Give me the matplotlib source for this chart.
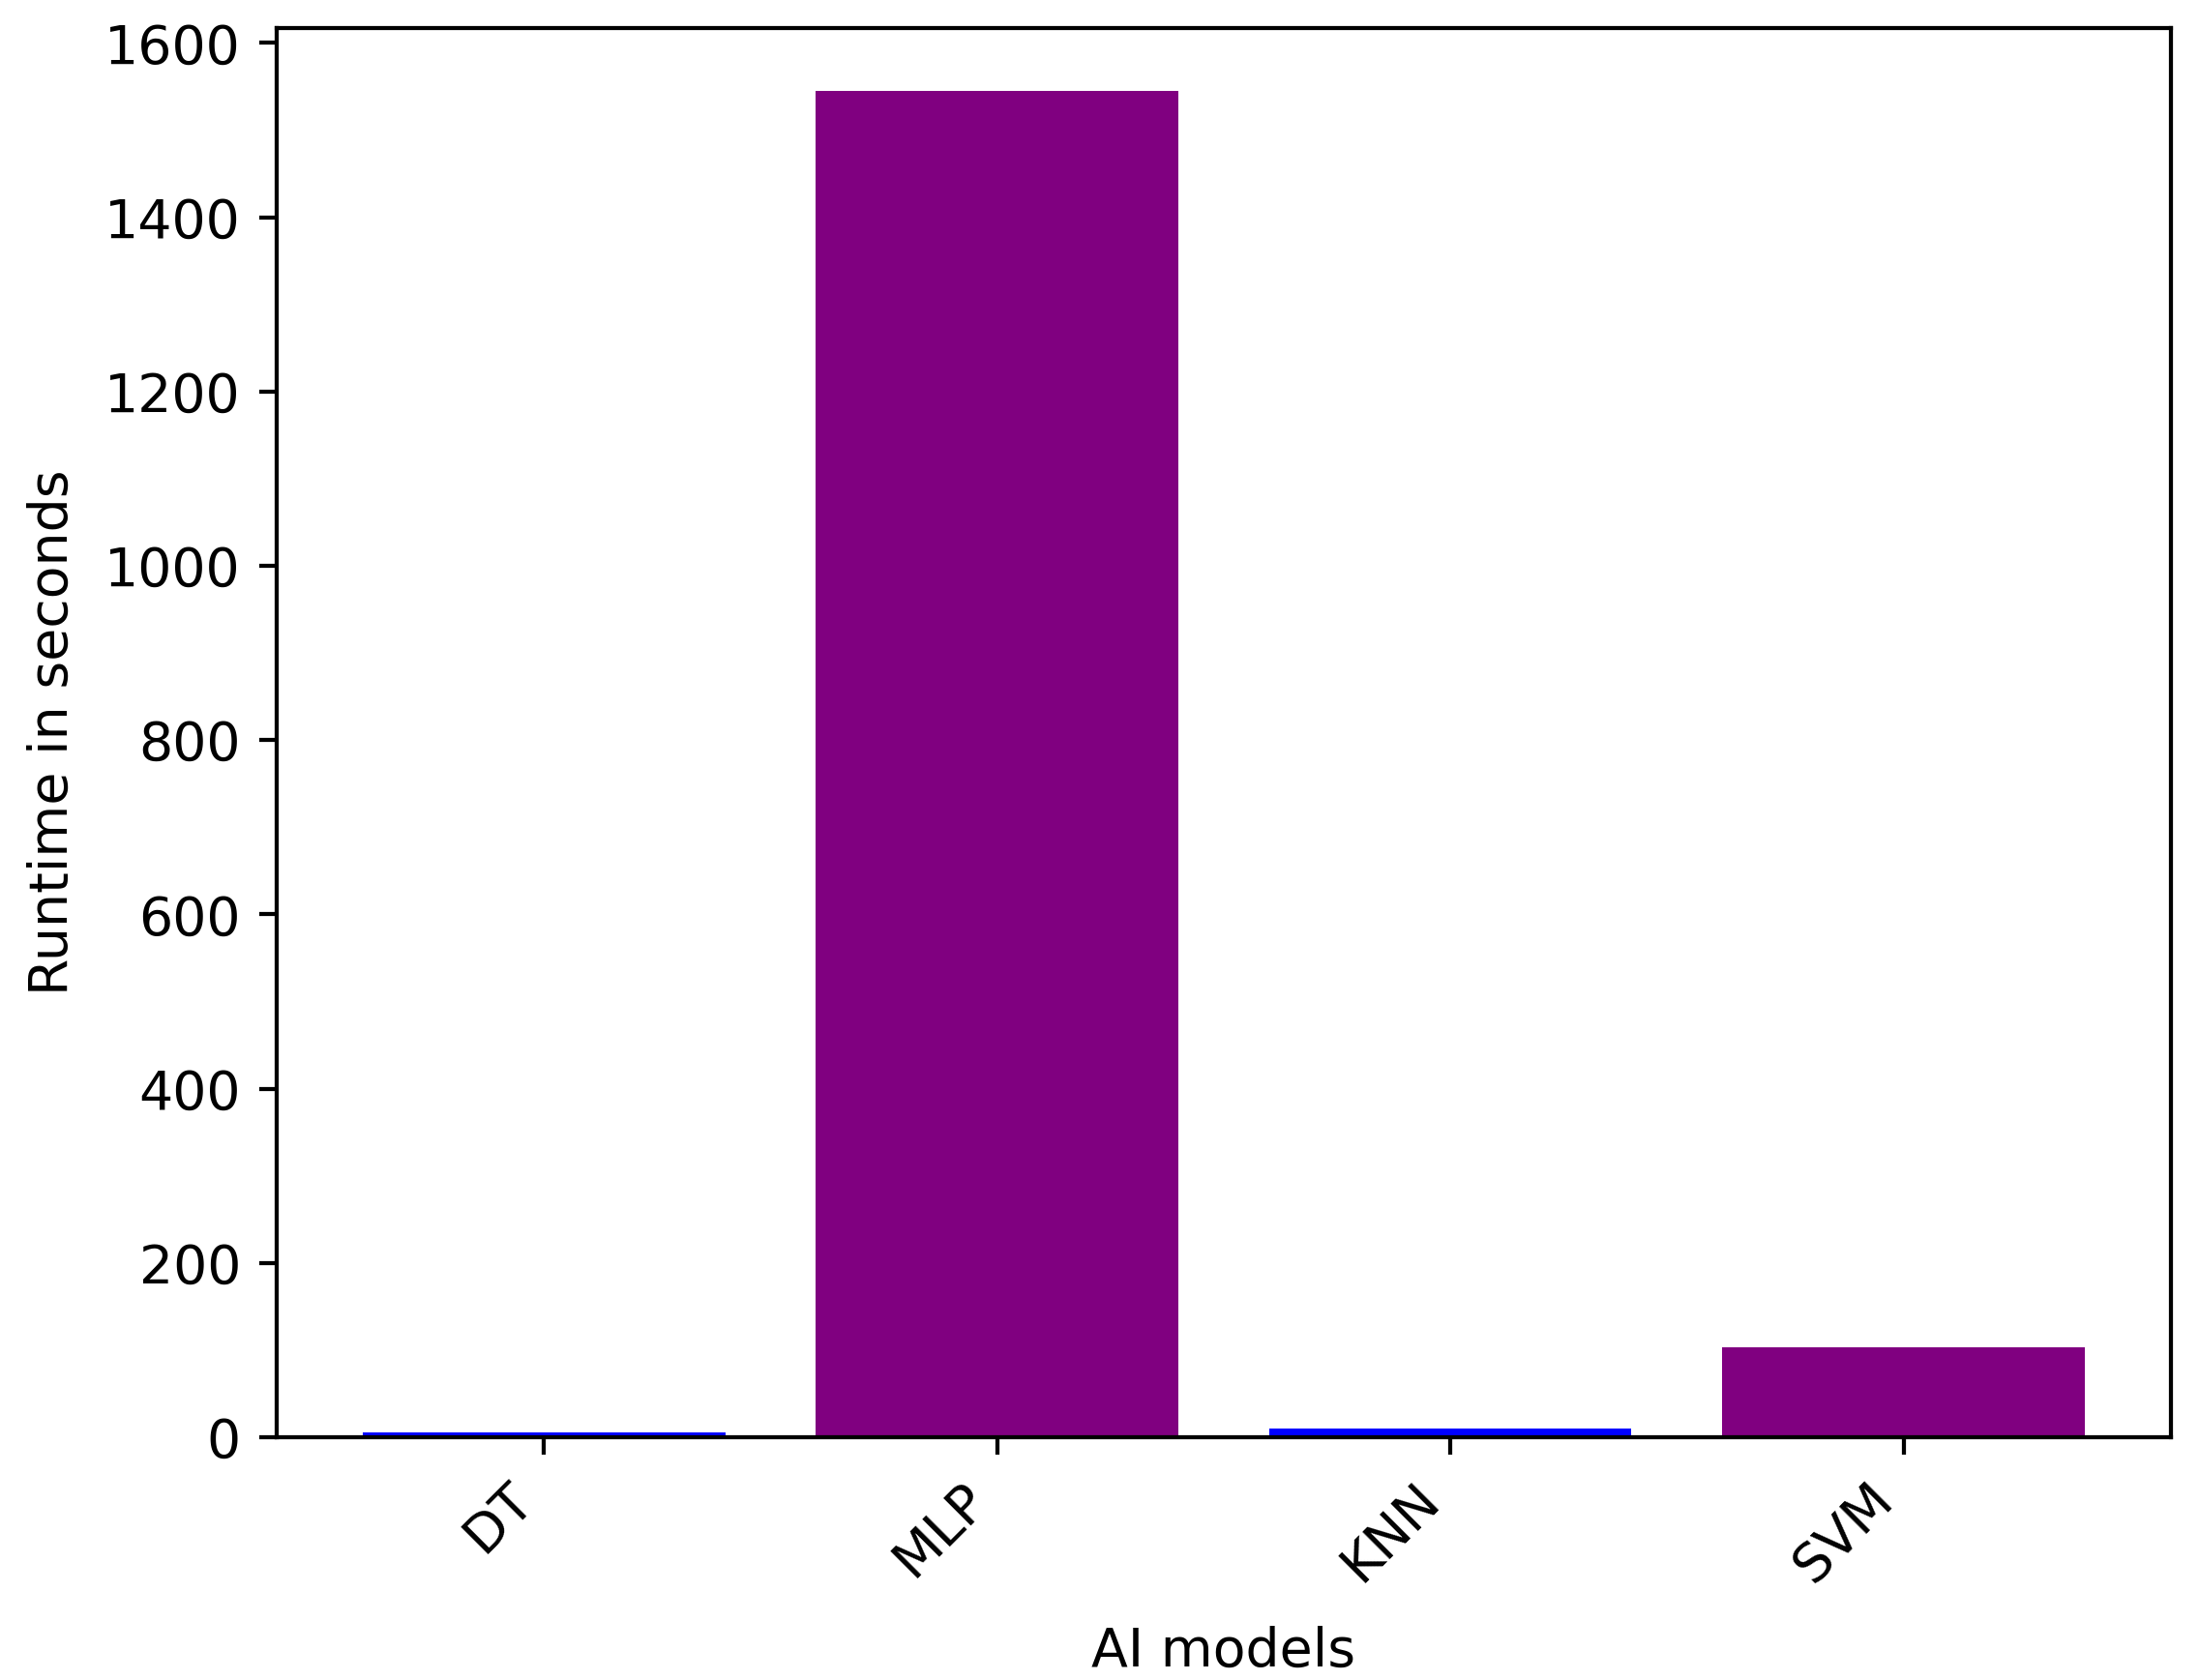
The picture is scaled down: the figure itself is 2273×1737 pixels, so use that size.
import matplotlib
matplotlib.use('Agg')
import matplotlib.pyplot as plt

# runtime per model (seconds)
models = ['DT', 'MLP', 'KNN', 'SVM']
runtimes = [6, 1545, 10, 103]
bar_colors = ['blue', 'purple', 'blue', 'purple']


def main():
    plt.rcParams['font.size'] = 10.5
    fig = plt.figure(figsize=(2273 / 380, 1737 / 380), dpi=380)
    ax = fig.add_axes([0.1258, 0.1445, 0.9872 - 0.1258, 0.9833 - 0.1445])

    ax.bar(models, runtimes, color=bar_colors)
    ax.set_ylim(0, 1617)
    ax.set_xlabel('AI models', labelpad=6.5)
    ax.set_ylabel('Runtime in seconds', labelpad=5)
    plt.setp(ax.get_xticklabels(), rotation=45, ha='right')

    fig.savefig('out.png', dpi=380)
    plt.close(fig)


if __name__ == '__main__':
    main()
